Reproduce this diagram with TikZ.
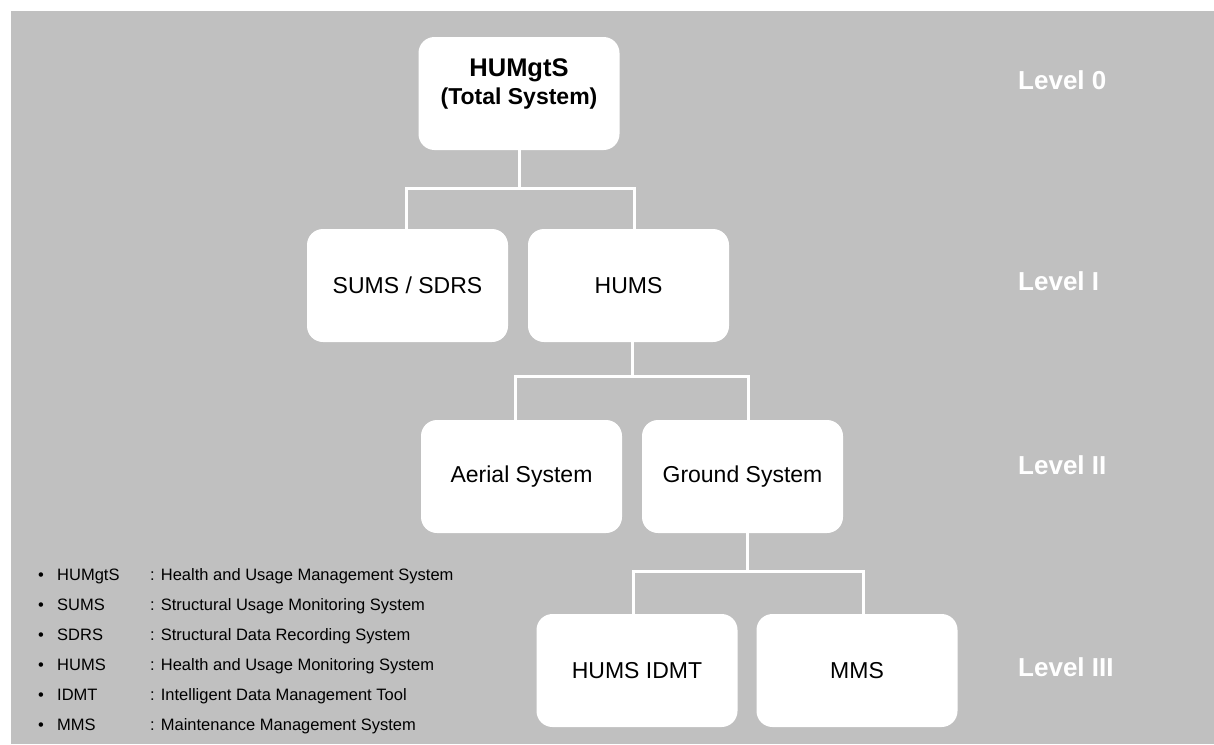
\documentclass[tikz,border=0pt]{standalone}
\usepackage{fontspec}
\setmainfont{Liberation Sans}
\usetikzlibrary{calc}
\definecolor{panel}{RGB}{192,192,192}
\begin{document}
\begin{tikzpicture}[x=1pt,y=-1pt,
  unitbox/.style={fill=white, rounded corners=16pt, minimum width=201pt,
    minimum height=113pt, inner sep=0pt, font=\fontsize{23}{27}\selectfont},
  link/.style={draw=white, line width=3pt},
  levellabel/.style={text=white, font=\bfseries\fontsize{26}{30}\selectfont,
    anchor=west, inner sep=0pt},
  legendtext/.style={font=\fontsize{16.5}{20}\selectfont, anchor=base west, inner sep=0pt}]
\useasboundingbox (0,0) rectangle (1214,744);
\fill[panel] (11,11) rectangle (1214,744);

% hierarchy boxes
\node[unitbox] (top) at (519,93.5) {};
\node[align=center, font=\bfseries\fontsize{23}{28}\selectfont, inner sep=0pt]
  (toptext) at ($(top.center)+(0,-10)$) {{\fontsize{25.5}{28}\selectfont HUMgtS}\\(Total System)};
\node[unitbox] (sums) at (407.5,285.5) {SUMS / SDRS};
\node[unitbox] (hums) at (628.5,285.5) {HUMS};
\node[unitbox] (aer)  at (521.5,476.5) {Aerial System};
\node[unitbox] (gnd)  at (742.5,476.5) {Ground System};
\node[unitbox] (idmt) at (637,670.5)   {HUMS IDMT};
\node[unitbox] (mms)  at (857,670.5)   {MMS};

% tree connectors
\draw[link] (top.south) |- ($(sums.north)+(-1.5,-40)$) -- ($(sums.north)+(-1.5,0)$);
\draw[link] (top.south) |- ($(hums.north)+(5.5,-40)$) -- ($(hums.north)+(5.5,0)$);
\draw[link] ($(hums.south)+(3.5,0)$) |- ($(aer.north)+(-6,-43)$) -- ($(aer.north)+(-6,0)$);
\draw[link] ($(hums.south)+(3.5,0)$) |- ($(gnd.north)+(5.5,-43)$) -- ($(gnd.north)+(5.5,0)$);
\draw[link] ($(gnd.south)+(5,0)$) |- ($(idmt.north)+(-4,-42)$) -- ($(idmt.north)+(-4,0)$);
\draw[link] ($(gnd.south)+(5,0)$) |- ($(mms.north)+(6,-42)$) -- ($(mms.north)+(6,0)$);

% level labels
\node[levellabel] (lv0)   at (1018,80)  {Level 0};
\node[levellabel] (lv1)   at (1018,281) {Level I};
\node[levellabel] (lv2)   at (1018,465) {Level II};
\node[levellabel] (lv3)   at (1018,667) {Level III};

% abbreviation legend
\foreach \ab/\full [count=\i] in {
    HUMgtS/Health and Usage Management System,
    SUMS/Structural Usage Monitoring System,
    SDRS/Structural Data Recording System,
    HUMS/Health and Usage Monitoring System,
    IDMT/Intelligent Data Management Tool,
    MMS/Maintenance Management System} {
  \node[legendtext, anchor=base] (bul\i) at (41,550+30*\i) {\textbullet};
  \node[legendtext] (abbr\i) at (57,550+30*\i) {\ab};
  \node[legendtext] (desc\i) at (150,550+30*\i) {: \full};
}
\end{tikzpicture}
\end{document}
